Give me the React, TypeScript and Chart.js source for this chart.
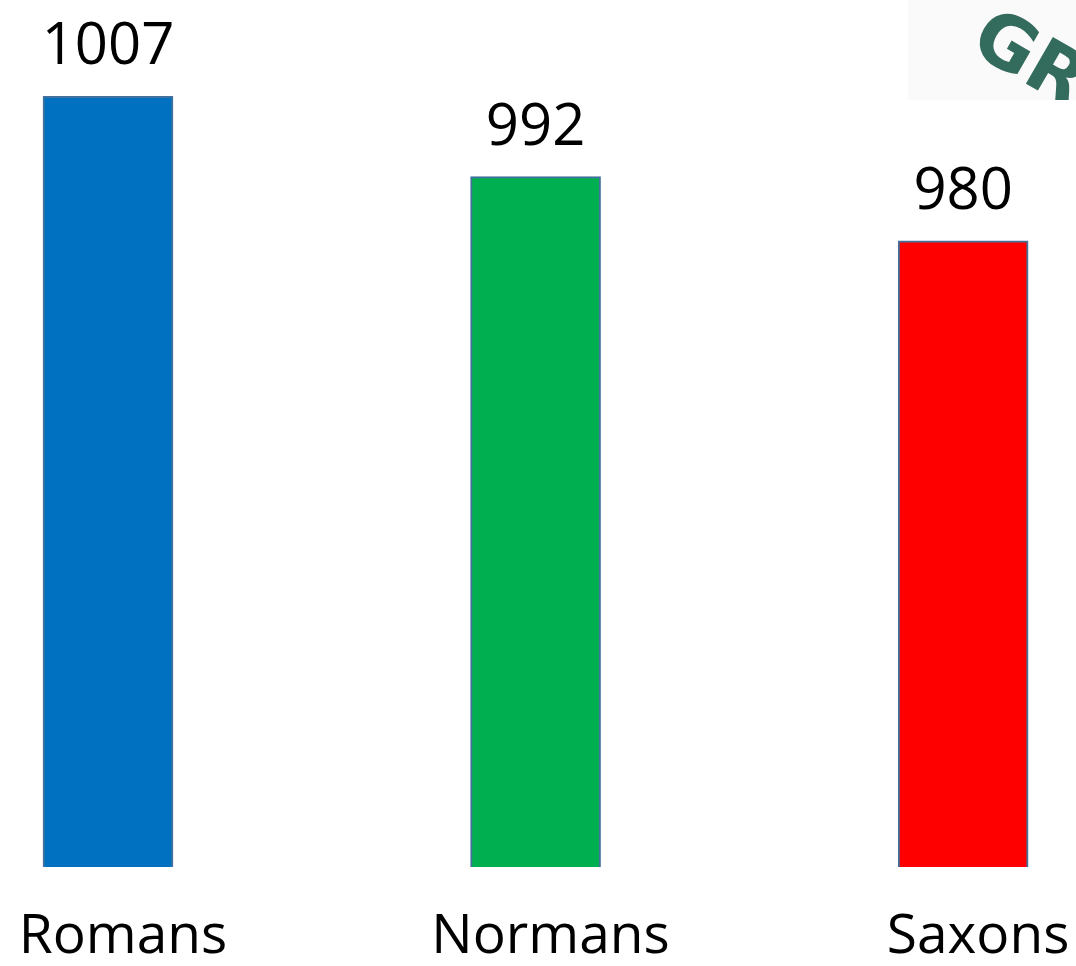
import React, { useEffect, useRef } from "react";
import { Chart, registerables } from "chart.js";

Chart.register(...registerables);

const categories: string[] = ["Romans", "Normans", "Saxons"];
const values: number[] = [1007, 992, 980];
const barColors: string[] = ["#0070C0", "#00B050", "#FF0000"];

const valueLabelPlugin = {
  id: "valueLabels",
  afterDatasetsDraw(chart: any) {
    const { ctx } = chart;
    const meta = chart.getDatasetMeta(0);
    ctx.save();
    ctx.font = "58px 'Open Sans'";
    ctx.fillStyle = "#000000";
    ctx.textAlign = "center";
    ctx.textBaseline = "alphabetic";
    meta.data.forEach((bar: any, i: number) => {
      ctx.fillText(String(values[i]), bar.x, bar.y - 32);
    });
    ctx.restore();
  },
};

export default function App() {
  const canvasRef = useRef<HTMLCanvasElement | null>(null);

  useEffect(() => {
    document.body.style.margin = "0";
    const canvas = canvasRef.current;
    if (!canvas) return;
    const chart = new Chart(canvas, {
      type: "bar",
      data: {
        datasets: [
          {
            data: categories.map((c, i) => ({ x: i, y: values[i] })),
            backgroundColor: barColors,
            borderColor: "#41719C",
            borderWidth: 2,
            borderSkipped: false,
            barThickness: 130,
          },
        ],
      },
      options: {
        animation: false,
        responsive: true,
        maintainAspectRatio: false,
        layout: { padding: { left: 0, right: 0, top: 0, bottom: -42 } },
        plugins: {
          legend: { display: false },
          tooltip: { enabled: false },
        },
        scales: {
          x: {
            type: "linear",
            offset: false,
            min: -0.2526,
            max: 2.264,
            grid: { display: false, drawTicks: false },
            border: { display: false },
            afterBuildTicks: (axis: any) => {
              axis.ticks = categories.map((c, i) => ({ value: i }));
            },
            afterFit: (axis: any) => {
              axis.paddingLeft = 0;
              axis.paddingRight = 0;
            },
            ticks: {
              autoSkip: false,
              maxRotation: 0,
              padding: 43,
              labelOffset: 15,
              color: "#000000",
              font: { family: "'Open Sans'", size: 55, lineHeight: 1.0 },
              callback: (v: any) => categories[Math.round(Number(v))] ?? "",
            },
          },
          y: {
            display: false,
            min: 863,
            max: 1025,
          },
        },
      },
      plugins: [valueLabelPlugin],
    });
    return () => chart.destroy();
  }, []);

  return (
    <div style={{ position: "relative", width: 1076, height: 966, background: "#ffffff", overflow: "hidden" }}>
      <canvas ref={canvasRef} />
      <div
        style={{
          position: "absolute",
          left: 908,
          top: 0,
          width: 168,
          height: 100,
          background: "#fafafa",
          overflow: "hidden",
          pointerEvents: "none",
        }}
      >
        <span
          style={{
            position: "absolute",
            left: 94,
            top: -10,
            fontFamily: "'DejaVu Sans'",
            fontWeight: "bold",
            fontSize: 74,
            color: "#336B5C",
            transform: "rotate(30deg)",
            transformOrigin: "left top",
            whiteSpace: "nowrap",
          }}
        >
          GR
        </span>
      </div>
    </div>
  );
}
